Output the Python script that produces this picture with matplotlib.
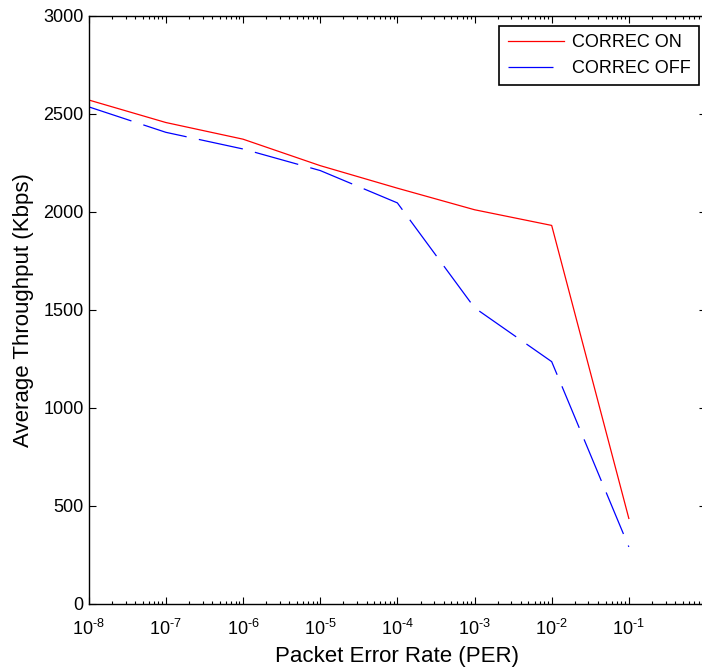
import matplotlib
matplotlib.use('Agg')
import matplotlib.pyplot as plt
from matplotlib.ticker import LogLocator, NullFormatter

plt.rcParams['font.family'] = ['Liberation Sans', 'DejaVu Sans']
plt.rcParams['mathtext.fontset'] = 'custom'
plt.rcParams['mathtext.rm'] = 'Liberation Sans'
plt.rcParams['mathtext.it'] = 'Liberation Sans'
plt.rcParams['mathtext.default'] = 'regular'

# packet error rate and throughput (Kbps)
per = [1e-8, 1e-7, 1e-6, 1e-5, 1e-4, 1e-3, 1e-2, 1e-1]
per_exp = [-8, -7, -6, -5, -4, -3, -2, -1]
thr_on = [2570, 2455, 2370, 2235, 2120, 2010, 1930, 435]
thr_off = [2535, 2405, 2320, 2210, 2045, 1510, 1235, 290]
yticks = [0, 500, 1000, 1500, 2000, 2500, 3000]

fig = plt.figure(figsize=(7.02, 6.70), dpi=100)
ax = fig.add_axes([88.7/702, 1-603.7/670, (706-88.7)/702, (603.7-15.7)/670])

ax.plot(per, thr_on, color='#ff0000', lw=0.9, label='CORREC ON')
ax.plot(per, thr_off, color='#0000ff', lw=0.9, dashes=(36, 10), label='CORREC OFF')

ax.set_xscale('log')
ax.set_xlim(1e-8, 1e0)
ax.set_ylim(0, 3000)
ax.set_yticks(yticks)
ax.set_xticks(per)
# hyphen instead of the math minus in the exponents
ax.set_xticklabels(['10$^{\\text{-%d}}$' % -e for e in per_exp])
ax.xaxis.set_minor_locator(LogLocator(base=10, subs=range(2, 10), numticks=20))
ax.xaxis.set_minor_formatter(NullFormatter())

ax.tick_params(which='both', direction='in', top=True, right=True, labelsize=13, width=0.8)
ax.tick_params(which='major', length=5)
ax.tick_params(which='minor', length=2.5)
ax.tick_params(axis='x', pad=11)
for s in ax.spines.values():
    s.set_linewidth(1.0)

ax.set_xlabel('Packet Error Rate (PER)', fontsize=16, labelpad=5)
ax.set_ylabel('Average Throughput (Kbps)', fontsize=16, labelpad=7)

leg = ax.legend(loc='upper right', bbox_to_anchor=(0.988, 0.983), fontsize=13,
                fancybox=False, framealpha=1, edgecolor='black', borderaxespad=0,
                handlelength=3.1, handletextpad=0.45, borderpad=0.45, labelspacing=0.5)
leg.get_frame().set_linewidth(1.2)

fig.savefig('out.png', dpi=100)
